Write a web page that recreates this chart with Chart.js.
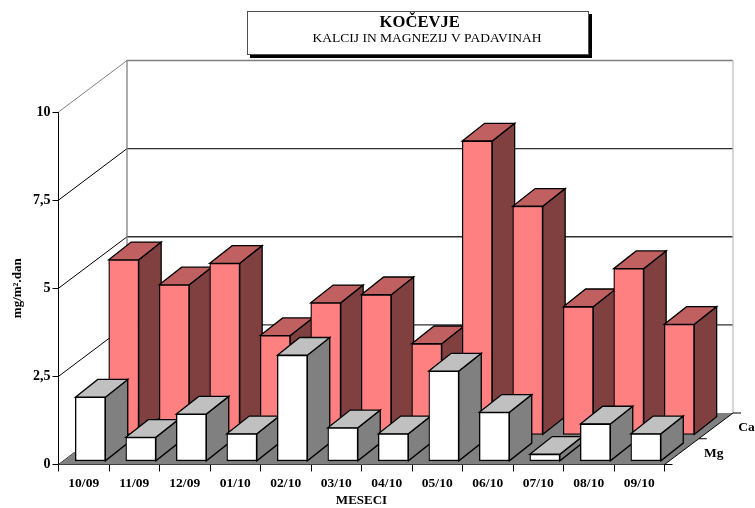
<!DOCTYPE html>
<html>
<head>
<meta charset="utf-8">
<script src="https://cdn.jsdelivr.net/npm/chart.js@4/dist/chart.umd.min.js"></script>
<style>
    html, body { margin: 0; padding: 0; background: #fff; }
    canvas { display: block; }
</style>
</head>
<body>
<canvas id="chart" width="755" height="508"></canvas>
<script>
const chartTitle = 'KOČEVJE';
const chartSubtitle = 'KALCIJ IN MAGNEZIJ V PADAVINAH';
const xAxisTitle = 'MESECI';
const yAxisTitle = 'mg/m².dan';
const months = ['10/09', '11/09', '12/09', '01/10', '02/10', '03/10', '04/10', '05/10', '06/10', '07/10', '08/10', '09/10'];
const caValues = [4.97, 4.26, 4.87, 2.82, 3.75, 3.98, 2.59, 8.34, 6.49, 3.64, 4.72, 3.14];
const mgValues = [1.82, 0.68, 1.34, 0.78, 3.01, 0.95, 0.78, 2.56, 1.39, 0.2, 1.06, 0.78];

const FONT = '"Liberation Serif", "Times New Roman", serif';

// Depth of the whole floor and of one bar, in pixels
const FLOOR_DX = 68.5, FLOOR_DY = 51.5;
const BAR_DX = 22.4, BAR_DY = 17.7;

function poly(ctx, points, fill, stroke, lineWidth) {
    ctx.beginPath();
    points.forEach(function (p, i) {
        if (i === 0) ctx.moveTo(p[0], p[1]);
        else ctx.lineTo(p[0], p[1]);
    });
    ctx.closePath();
    if (fill) {
        ctx.fillStyle = fill;
        ctx.fill();
    }
    if (stroke) {
        ctx.strokeStyle = stroke;
        ctx.lineWidth = lineWidth || 1;
        ctx.stroke();
    }
}

function line(ctx, x1, y1, x2, y2, color, lineWidth) {
    ctx.beginPath();
    ctx.moveTo(x1, y1);
    ctx.lineTo(x2, y2);
    ctx.strokeStyle = color;
    ctx.lineWidth = lineWidth || 1;
    ctx.stroke();
}

// Walls, floor, title box and series names
const scene = {
    id: 'scene',
    beforeDatasetsDraw: function (chart) {
        const ctx = chart.ctx;
        const area = chart.chartArea;
        const yScale = chart.scales.y;

        // Back wall and diagonals of the left wall, from the y ticks
        yScale.ticks.forEach(function (tick) {
            const y = yScale.getPixelForValue(tick.value);
            const top = tick.value === 10;
            const color = top ? '#808080' : '#000000';
            line(ctx, area.left, y, area.left + FLOOR_DX, y - FLOOR_DY, color);
            if (tick.value > 0) {
                line(ctx, area.left + FLOOR_DX, y - FLOOR_DY, area.right + FLOOR_DX, y - FLOOR_DY, top ? '#808080' : '#303030', 1.3);
            }
        });
        const backTop = yScale.getPixelForValue(10) - FLOOR_DY;
        const backBottom = area.bottom - FLOOR_DY;
        line(ctx, area.left + FLOOR_DX, backTop, area.left + FLOOR_DX, backBottom, '#808080', 1.3);
        line(ctx, area.right + FLOOR_DX, backTop, area.right + FLOOR_DX, backBottom, '#c0c0c0', 1.3);

        // Floor
        poly(ctx, [
            [area.left, area.bottom],
            [area.right, area.bottom],
            [area.right + FLOOR_DX, backBottom],
            [area.left + FLOOR_DX, backBottom]
        ], '#808080');
        line(ctx, area.right, area.bottom, area.right + FLOOR_DX, backBottom, '#000000');

        // Depth ticks and series names
        const depthTicks = [0, 0.5, 1];
        depthTicks.forEach(function (t) {
            const x = area.right + FLOOR_DX * t;
            const y = area.bottom - FLOOR_DY * t;
            line(ctx, x, y, x + 8, y, '#000000');
        });
        ctx.font = 'bold 13.5px ' + FONT;
        ctx.fillStyle = '#000000';
        ctx.textAlign = 'left';
        ctx.textBaseline = 'middle';
        ctx.fillText(chart.data.datasets[0].label, area.right + 39.5, area.bottom - 11);
        ctx.fillText(chart.data.datasets[1].label, area.right + 73.7, area.bottom - 36.5);
    },
    // Each bar: side and top first, then the library's own front face
    beforeDatasetDraw: function (chart, args) {
        const ctx = chart.ctx;
        const ds = chart.data.datasets[args.index];
        const meta = args.meta;
        ctx.save();
        ctx.translate(ds.shiftX, ds.shiftY);
        meta.data.forEach(function (bar) {
            const p = bar.getProps(['x', 'y', 'width', 'base']);
            const l = p.x - p.width / 2;
            const r = p.x + p.width / 2;
            poly(ctx, [
                [r, p.y], [r + BAR_DX, p.y - BAR_DY],
                [r + BAR_DX, p.base - BAR_DY], [r, p.base]
            ], ds.sideColor, '#000000', 1.3);
            poly(ctx, [
                [l, p.y], [l + BAR_DX, p.y - BAR_DY],
                [r + BAR_DX, p.y - BAR_DY], [r, p.y]
            ], ds.topColor, '#000000', 1.3);
            bar.draw(ctx);
        });
        ctx.restore();
        return false;
    },
    afterDraw: function (chart) {
        const ctx = chart.ctx;
        const boxX = 247, boxY = 11, boxW = 342, boxH = 44;
        ctx.fillStyle = '#000000';
        ctx.fillRect(boxX + 3, boxY + 3, boxW, boxH);
        ctx.fillStyle = '#ffffff';
        ctx.fillRect(boxX, boxY, boxW, boxH);
        ctx.strokeStyle = '#505050';
        ctx.lineWidth = 1;
        ctx.strokeRect(boxX + 0.5, boxY + 0.5, boxW - 1, boxH - 1);

        ctx.fillStyle = '#000000';
        ctx.textAlign = 'center';
        ctx.textBaseline = 'middle';
        ctx.font = 'bold 16.6px ' + FONT;
        ctx.fillText(chartTitle, 419.7, 23);
        ctx.font = '13.5px ' + FONT;
        ctx.fillText(chartSubtitle, 427, 38.5);
    }
};

new Chart(document.getElementById('chart'), {
    type: 'bar',
    data: {
        labels: months,
        datasets: [
            {
                label: 'Mg',
                data: mgValues,
                backgroundColor: '#ffffff',
                sideColor: '#808080',
                topColor: '#c0c0c0',
                shiftX: 6.6,
                shiftY: -3.2
            },
            {
                label: 'Ca',
                data: caValues,
                backgroundColor: '#ff8080',
                sideColor: '#804040',
                topColor: '#c06060',
                shiftX: 40,
                shiftY: -29.5
            }
        ]
    },
    options: {
        responsive: false,
        animation: false,
        layout: { padding: { top: 112, right: 90.5, left: 0, bottom: 0 } },
        datasets: {
            bar: {
                grouped: false,
                barThickness: 30,
                borderColor: '#000000',
                borderWidth: 1.3,
                borderSkipped: false
            }
        },
        plugins: {
            legend: { display: false },
            tooltip: { enabled: false }
        },
        scales: {
            x: {
                afterFit: function (scale) { scale.height = 43.5; },
                grid: { drawOnChartArea: false, color: '#000000', tickLength: 7 },
                border: { color: '#000000' },
                ticks: {
                    color: '#000000',
                    maxRotation: 0,
                    padding: 4,
                    font: { family: FONT, size: 13.5, weight: 'bold' }
                },
                title: {
                    display: true,
                    text: xAxisTitle,
                    color: '#000000',
                    padding: { top: 0, bottom: 0 },
                    font: { family: FONT, size: 13, weight: 'bold' }
                }
            },
            y: {
                min: 0,
                max: 10,
                afterFit: function (scale) { scale.width = 58.5; },
                grid: { drawOnChartArea: false, color: '#000000', tickLength: 6 },
                border: { color: '#000000' },
                ticks: {
                    stepSize: 2.5,
                    color: '#000000',
                    padding: 2,
                    font: { family: FONT, size: 14, weight: 'bold' },
                    callback: function (value) {
                        return String(value).replace('.', ',');
                    }
                },
                title: {
                    display: true,
                    text: yAxisTitle,
                    color: '#000000',
                    padding: { top: 10, bottom: 0 },
                    font: { family: FONT, size: 13, weight: 'bold' }
                }
            }
        }
    },
    plugins: [scene]
});
</script>
</body>
</html>
